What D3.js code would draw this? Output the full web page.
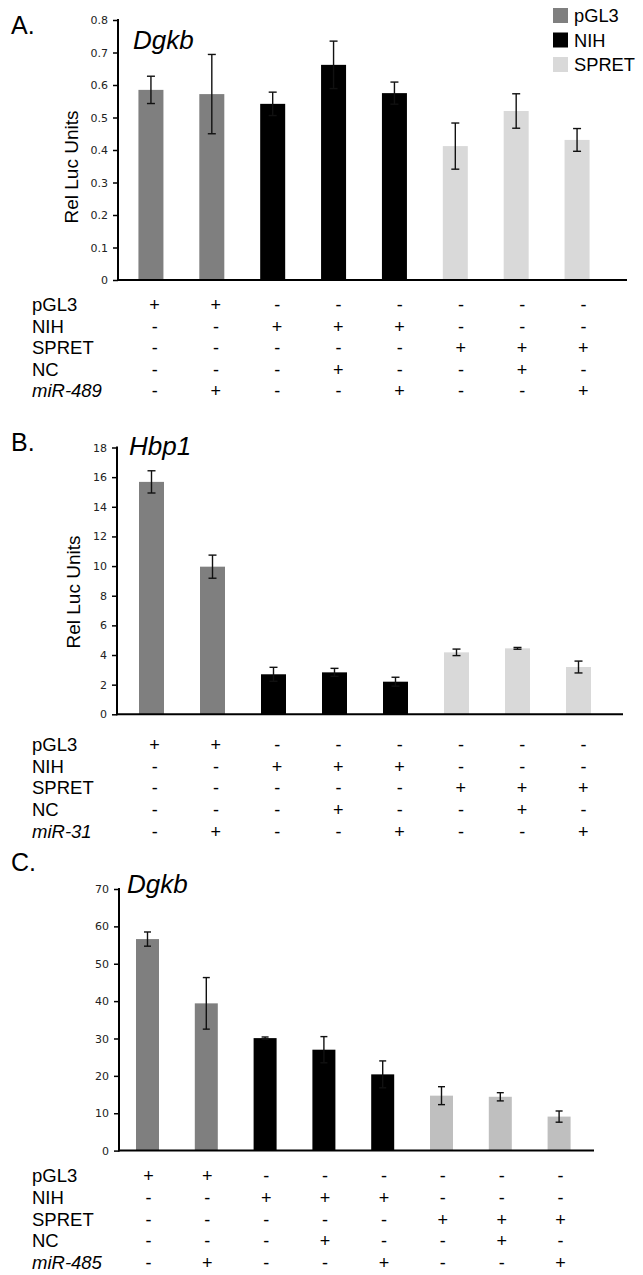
<!DOCTYPE html>
<html>
  <head>
    <meta charset="utf-8">
    <title>luciferase panels</title>
    <style>
      body { margin: 0; background: #fff; }
      svg text { font-family: "Liberation Sans", Arial, sans-serif; fill: #000; }
      .tick text { font-family: "DejaVu Sans", Verdana, sans-serif; }
    </style>
  </head>
  <body>
    <div id="container"></div>
    <script src="https://cdn.jsdelivr.net/npm/d3@7"></script>
    <script>
      // ---- data ----
      var constructs = ["pGL3", "pGL3", "NIH", "NIH", "NIH", "SPRET", "SPRET", "SPRET"];
      var tableRows = ["pGL3", "NIH", "SPRET", "NC"];
      var signPGL3  = ["+", "+", "-", "-", "-", "-", "-", "-"];
      var signNIH   = ["-", "-", "+", "+", "+", "-", "-", "-"];
      var signSPRET = ["-", "-", "-", "-", "-", "+", "+", "+"];
      var signNC    = ["-", "-", "-", "+", "-", "-", "+", "-"];
      var signMiR   = ["-", "+", "-", "-", "+", "-", "-", "+"];

      var dgkb489    = [0.585, 0.572, 0.542, 0.662, 0.575, 0.412, 0.520, 0.431];
      var dgkb489Err = [0.042, 0.122, 0.036, 0.073, 0.034, 0.071, 0.053, 0.035];
      var ticksA = [0, 0.1, 0.2, 0.3, 0.4, 0.5, 0.6, 0.7, 0.8];

      var hbp1    = [15.68, 9.96, 2.70, 2.83, 2.20, 4.18, 4.45, 3.19];
      var hbp1Err = [0.75, 0.78, 0.47, 0.27, 0.30, 0.22, 0.06, 0.40];
      var ticksB = [0, 2, 4, 6, 8, 10, 12, 14, 16, 18];

      var dgkb485    = [56.6, 39.4, 30.1, 27.0, 20.4, 14.7, 14.4, 9.1];
      var dgkb485Err = [1.9, 6.9, 0.3, 3.5, 3.6, 2.4, 1.1, 1.5];
      var ticksC = [0, 10, 20, 30, 40, 50, 60, 70];

      var legendKeys = ["pGL3", "NIH", "SPRET"];

      var width = 643, height = 1275;
      var svg = d3.select("#container").append("svg")
        .attr("width", width)
        .attr("height", height);

      function drawPanel(p) {
        var g = svg.append("g");
        var y = d3.scaleLinear().domain([0, p.max]).range([p.bottom, p.top]);
        var x = d3.scaleBand().domain(d3.range(8)).range(p.barRange).padding(0);
        var xt = d3.scaleBand().domain(d3.range(8)).range(p.tableRange).padding(0);
        var colour = function(c) { return c == "pGL3" ? "#7f7f7f" : c == "NIH" ? "#000" : p.spret; };

        var rows = p.values.map(function(v, i) {
          return {v: v, e: p.errs[i], c: constructs[i], i: i};
        });

        g.selectAll("rect.bar").data(rows).enter().append("rect")
          .attr("class", "bar")
          .attr("x", function(d) { return x(d.i) + x.bandwidth() / 2 - p.barW / 2; })
          .attr("width", p.barW)
          .attr("y", function(d) { return y(d.v); })
          .attr("height", function(d) { return y(0) - y(d.v); })
          .style("fill", function(d) { return colour(d.c); });

        // error bars
        var eb = g.selectAll("g.err").data(rows).enter().append("g")
          .attr("class", "err")
          .attr("transform", function(d) { return "translate(" + (x(d.i) + x.bandwidth() / 2) + ",0)"; })
          .style("stroke", "#111").style("stroke-width", 1.4);
        eb.append("line")
          .attr("y1", function(d) { return y(d.v + d.e); })
          .attr("y2", function(d) { return y(d.v - d.e); });
        eb.append("line").attr("x1", -p.cap).attr("x2", p.cap)
          .attr("y1", function(d) { return y(d.v + d.e); })
          .attr("y2", function(d) { return y(d.v + d.e); });
        eb.append("line").attr("x1", -p.cap).attr("x2", p.cap)
          .attr("y1", function(d) { return y(d.v - d.e); })
          .attr("y2", function(d) { return y(d.v - d.e); });

        // y axis
        var ax = g.append("g")
          .attr("transform", "translate(" + p.x0 + ",0)")
          .call(d3.axisLeft(y).tickValues(p.ticks).tickSize(5).tickPadding(5)
            .tickFormat(function(d) { return d; }));
        ax.select(".domain").remove();
        ax.selectAll(".tick line").style("stroke", "#000").style("stroke-width", 1.5);
        ax.selectAll(".tick text").style("font-size", "11px").style("fill", "#222");
        g.append("line").attr("x1", p.x0).attr("x2", p.x0)
          .attr("y1", y(p.max) - 1).attr("y2", y(0) + 1)
          .style("stroke", "#000").style("stroke-width", 2);
        g.append("line").attr("x1", p.x0).attr("x2", p.xEnd)
          .attr("y1", y(0)).attr("y2", y(0))
          .style("stroke", "#000").style("stroke-width", 2);

        // panel letter, gene title, y label
        g.append("text").attr("x", 11).attr("y", p.letterY)
          .style("font-size", "25px").text(p.letter);
        g.append("text").attr("x", p.titleX).attr("y", p.titleY)
          .style("font-size", "26px").style("font-style", "italic").text(p.title);
        if (p.ylabel) {
          g.append("text")
            .attr("transform", "translate(" + p.ylabelX + "," + p.ylabelY + ") rotate(-90)")
            .attr("text-anchor", "middle")
            .style("font-size", "19px").text(p.ylabel);
        }

        // condition table
        var signs = [signPGL3, signNIH, signSPRET, signNC, signMiR];
        var labels = tableRows.concat([p.mir]);
        labels.forEach(function(lab, r) {
          var ty = p.tableY + r * p.rowStep;
          g.append("text").attr("x", 32).attr("y", ty)
            .style("font-size", "18.5px")
            .style("font-style", r == 4 ? "italic" : "normal")
            .text(lab);
          g.selectAll(null).data(signs[r]).enter().append("text")
            .attr("x", function(d, i) { return xt(i) + xt.bandwidth() / 2; })
            .attr("y", ty)
            .attr("text-anchor", "middle")
            .style("font-size", "18px")
            .text(function(d) { return d; });
        });
      }

      drawPanel({
        letter: "A.", letterY: 34, title: "Dgkb", titleX: 133, titleY: 49,
        ylabel: "Rel Luc Units", ylabelX: 78, ylabelY: 167,
        values: dgkb489, errs: dgkb489Err, ticks: ticksA, max: 0.8,
        top: 20, bottom: 280, x0: 118, xEnd: 627,
        barRange: [120.5, 607.5], barW: 25, cap: 4, spret: "#d9d9d9",
        tableRange: [124, 614], tableY: 311, rowStep: 21.6, mir: "miR-489"
      });

      drawPanel({
        letter: "B.", letterY: 451, title: "Hbp1", titleX: 129, titleY: 455,
        ylabel: "Rel Luc Units", ylabelX: 80, ylabelY: 592,
        values: hbp1, errs: hbp1Err, ticks: ticksB, max: 18,
        top: 447.5, bottom: 714.3, x0: 117, xEnd: 623,
        barRange: [121, 609], barW: 25, cap: 4, spret: "#d9d9d9",
        tableRange: [124, 614], tableY: 751, rowStep: 21.7, mir: "miR-31"
      });

      drawPanel({
        letter: "C.", letterY: 871, title: "Dgkb", titleX: 127, titleY: 893,
        ylabel: null,
        values: dgkb485, errs: dgkb485Err, ticks: ticksC, max: 70,
        top: 889, bottom: 1150.6, x0: 119, xEnd: 594,
        barRange: [118.1, 588.5], barW: 23, cap: 3.5, spret: "#bfbfbf",
        tableRange: [119, 590], tableY: 1182, rowStep: 21.8, mir: "miR-485"
      });

      // legend (top right, panel A)
      var leg = svg.append("g").attr("transform", "translate(553,8)");
      leg.selectAll("rect").data(legendKeys).enter().append("rect")
        .attr("x", 0).attr("y", function(d, i) { return i * 24.5; })
        .attr("width", 15).attr("height", 15)
        .style("fill", function(d) { return d == "pGL3" ? "#7f7f7f" : d == "NIH" ? "#000" : "#d9d9d9"; });
      leg.selectAll("text").data(legendKeys).enter().append("text")
        .attr("x", 21).attr("y", function(d, i) { return i * 24.5 + 14; })
        .style("font-size", "18.3px")
        .text(function(d) { return d; });
    </script>
  </body>
</html>
